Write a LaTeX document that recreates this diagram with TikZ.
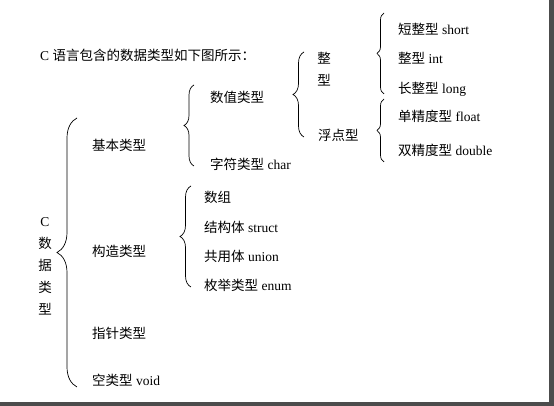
\documentclass[tikz,border=0pt]{standalone}
\usepackage{fontspec}
\setmainfont{Liberation Serif}
\newfontfamily\cjk{Noto Sans CJK SC}
\usetikzlibrary{decorations.pathreplacing}
\newcommand{\zh}[1]{{\cjk #1}}

\begin{document}
\begin{tikzpicture}[x=1pt,y=1pt,
  lbl/.style={anchor=west,inner sep=0pt,text height=11.9pt,text depth=1.6pt,
    font=\fontsize{13.5}{16}\selectfont},
  col/.style={inner sep=0pt,align=center,font=\fontsize{13.5}{22}\selectfont},
  brc/.style={decorate,decoration={brace,amplitude=#1},line width=0.7pt}]
\useasboundingbox (0,0) rectangle (554,406);
\fill[white] (0,0) rectangle (554,406);
\fill[black!70] (549,0) rectangle (554,406);
\fill[black!70] (0,0) rectangle (554,4);

\node[lbl] (title) at (40,351) {C \zh{语言包含的数据类型如下图所示：}};

% first level
\node[col] (cdt) at (45,139.5) {C\\\zh{数}\\\zh{据}\\\zh{类}\\\zh{型}};
\node[lbl] (basic) at (92,261) {\zh{基本类型}};
\node[lbl] (build) at (92,155) {\zh{构造类型}};
\node[lbl] (ptr) at (92,73) {\zh{指针类型}};
\node[lbl] (void) at (92,26) {\zh{空类型} void};

% basic types
\node[lbl] (num) at (210,309) {\zh{数值类型}};
\node[lbl] (chr) at (210,242) {\zh{字符类型} char};
\node[col] (int) at (324,337) {\zh{整}\\\zh{型}};
\node[lbl] (flt) at (318,271) {\zh{浮点型}};
\node[lbl] (short) at (398,377) {\zh{短整型} short};
\node[lbl] (int2) at (398,348) {\zh{整型} int};
\node[lbl] (long) at (398,318) {\zh{长整型} long};
\node[lbl] (float) at (398,290) {\zh{单精度型} float};
\node[lbl] (double) at (398,256) {\zh{双精度型} double};

% built types
\node[lbl] (arr) at (204,209) {\zh{数组}};
\node[lbl] (struct) at (204,179) {\zh{结构体} struct};
\node[lbl] (union) at (204,150) {\zh{共用体} union};
\node[lbl] (enum) at (204,121) {\zh{枚举类型} enum};

% braces
\coordinate (b0a) at (77,19);  \coordinate (b0b) at (77,288);
\coordinate (b1a) at (194,240); \coordinate (b1b) at (194,321);
\coordinate (b2a) at (304,269); \coordinate (b2b) at (304,354);
\coordinate (b3a) at (384,312); \coordinate (b3b) at (384,393);
\coordinate (b4a) at (384,244); \coordinate (b4b) at (384,307);
\coordinate (b5a) at (191,119); \coordinate (b5b) at (191,220);
\draw[brc=20] (b0a) -- (b0b);
\draw[brc=10] (b1a) -- (b1b);
\draw[brc=11] (b2a) -- (b2b);
\draw[brc=7] (b3a) -- (b3b);
\draw[brc=7] (b4a) -- (b4b);
\draw[brc=11] (b5a) -- (b5b);
\end{tikzpicture}
\end{document}
